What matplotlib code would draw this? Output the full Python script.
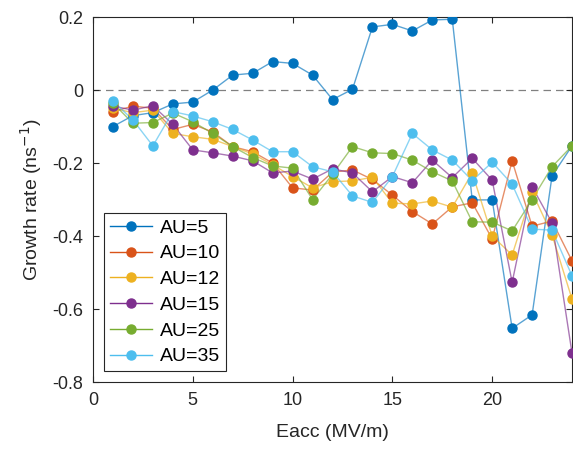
import matplotlib.pyplot as plt
import numpy as np

plt.rcParams["font.family"] = ["Liberation Sans", "DejaVu Sans"]
plt.rcParams["axes.unicode_minus"] = False

eacc = np.arange(1, 25)

au5 = [-0.100, -0.070, -0.062, -0.038, -0.033, 0.000, 0.041, 0.046, 0.078, 0.073, 0.041, -0.026,
       0.002, 0.173, 0.180, 0.162, 0.192, 0.194, -0.301, -0.301, -0.653, -0.616, -0.235, -0.153]
au10 = [-0.059, -0.044, -0.050, -0.108, -0.094, -0.115, -0.155, -0.169, -0.200, -0.268, -0.274, -0.225,
        -0.219, -0.245, -0.288, -0.333, -0.367, -0.320, -0.309, -0.408, -0.194, -0.373, -0.359, -0.468]
au12 = [-0.050, -0.062, -0.055, -0.119, -0.128, -0.135, -0.155, -0.175, -0.205, -0.237, -0.268, -0.251,
        -0.249, -0.239, -0.310, -0.312, -0.304, -0.321, -0.227, -0.400, -0.452, -0.280, -0.397, -0.573]
au15 = [-0.044, -0.055, -0.043, -0.094, -0.164, -0.172, -0.181, -0.194, -0.227, -0.222, -0.244, -0.216,
        -0.227, -0.279, -0.237, -0.254, -0.192, -0.240, -0.187, -0.247, -0.527, -0.265, -0.364, -0.721]
au25 = [-0.036, -0.091, -0.089, -0.063, -0.087, -0.119, -0.155, -0.185, -0.208, -0.214, -0.300, -0.231,
        -0.155, -0.172, -0.174, -0.192, -0.224, -0.249, -0.361, -0.362, -0.386, -0.300, -0.210, -0.153]
au35 = [-0.030, -0.082, -0.153, -0.059, -0.071, -0.087, -0.108, -0.137, -0.169, -0.169, -0.210, -0.224,
        -0.290, -0.308, -0.237, -0.119, -0.164, -0.192, -0.248, -0.198, -0.258, -0.381, -0.384, -0.509]

series = [au5, au10, au12, au15, au25, au35]
labels = ["AU=5", "AU=10", "AU=12", "AU=15", "AU=25", "AU=35"]
colors = ["#0072BD", "#D95319", "#EDB120", "#7E2F8E", "#77AC30", "#4DBEEE"]

fig = plt.figure(figsize=(5.73, 4.5), dpi=100)
ax = fig.add_axes([0.1623, 0.1511, 0.836, 0.811])

ax.axhline(0, color="#808080", linestyle=(0, (6, 4)), linewidth=0.9, zorder=1)

for vals, lab, col in zip(series, labels, colors):
    # thin translucent line, solid markers on top
    ax.plot(eacc, vals, "-", color=col, linewidth=1.0, alpha=0.65, zorder=2)
    ax.plot(eacc, vals, "o", color=col, markersize=6.5, zorder=3)
    ax.plot([], [], "-o", color=col, linewidth=1.0, markersize=6.5, label=lab)

ax.set_xlim(0, 24)
ax.set_ylim(-0.8, 0.2)
ax.set_xticks([0, 5, 10, 15, 20])
ax.set_yticks([-0.8, -0.6, -0.4, -0.2, 0, 0.2])
ax.set_yticklabels(["-0.8", "-0.6", "-0.4", "-0.2", "0", "0.2"])
ax.tick_params(direction="in", top=True, right=True, labelsize=13, colors="#262626",
               length=4, pad=7)
for s in ax.spines.values():
    s.set_color("#262626")
    s.set_linewidth(0.8)

ax.set_xlabel("Eacc (MV/m)", fontsize=14, color="#262626", labelpad=11)
ax.set_ylabel("Growth rate (ns$^{-1}$)", fontsize=14, color="#262626", labelpad=6)

leg = ax.legend(loc="lower left", fontsize=14, frameon=True, fancybox=False,
                edgecolor="#262626", framealpha=1, handlelength=2.2, handletextpad=0.4,
                borderaxespad=0.55, labelspacing=0.42, borderpad=0.3)
leg.get_frame().set_linewidth(0.8)

fig.savefig("out.png", dpi=100)
